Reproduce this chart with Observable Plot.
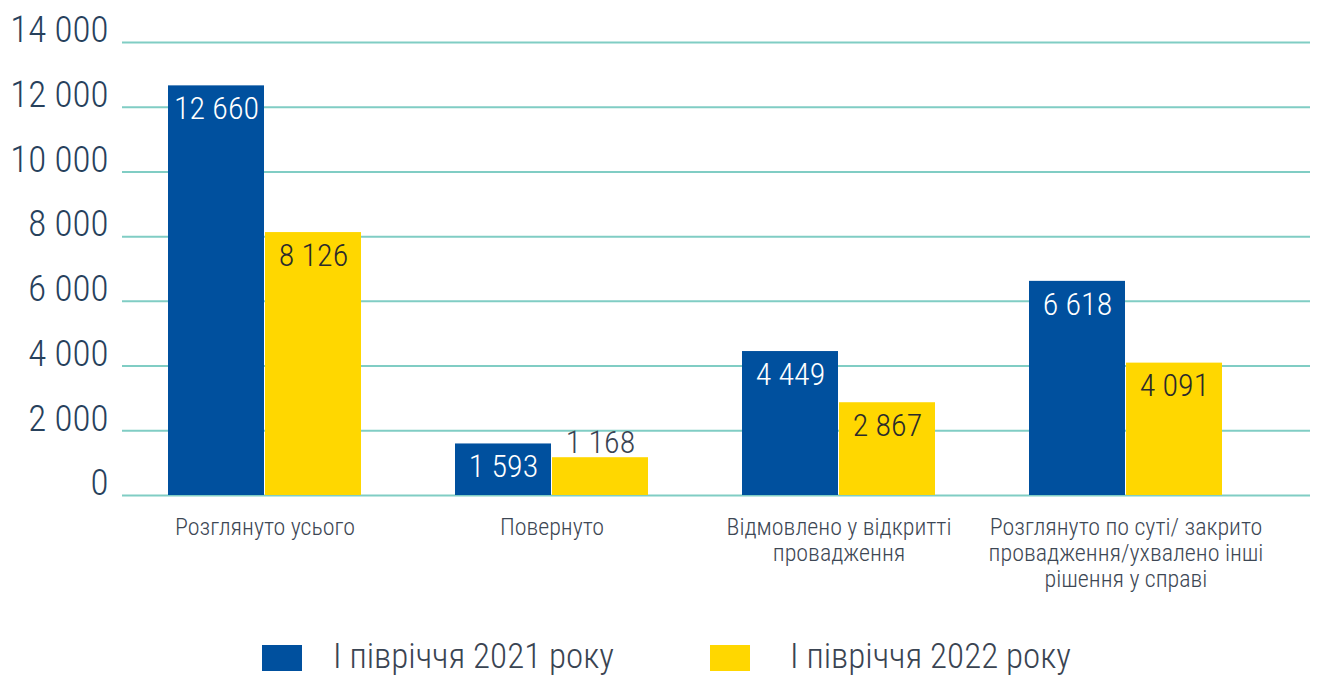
<!DOCTYPE html>
<html><head><meta charset="utf-8">
<script src="https://cdn.jsdelivr.net/npm/d3@7"></script>
<script src="https://cdn.jsdelivr.net/npm/@observablehq/plot@0.6"></script>
<style>
body{margin:0;background:#fff;font-family:'Roboto Condensed',Roboto,sans-serif;}
#chart{width:1317px;height:620px;}
#legend{position:relative;width:1317px;height:68px;}
.lg-sw{position:absolute;top:25px;width:40px;height:26px;}
.lg-tx{position:absolute;top:16px;font-size:35px;font-weight:300;line-height:42px;color:#3a4452;white-space:nowrap;}
svg text{font-weight:300;}
</style></head><body>
<div id="chart"></div>
<div id="legend"></div>
<script>
const categories = [
  "Розглянуто усього",
  "Повернуто",
  "Відмовлено у відкритті\nпровадження",
  "Розглянуто по суті/ закрито\nпровадження/ухвалено інші\nрішення у справі"
];
const series = ["І півріччя 2021 року", "І півріччя 2022 року"];
const values2021 = [12660, 1593, 4449, 6618];
const values2022 = [8126, 1168, 2867, 4091];
const yTicks = [0, 2000, 4000, 6000, 8000, 10000, 12000, 14000];
const colors = ["#00509e", "#ffd700"];

const fmt = v => d3.format(",")(v).replace(/,/g, " ");
const rows2021 = categories.map((c, i) => ({category: c, series: series[0], value: values2021[i]}));
const rows2022 = categories.map((c, i) => ({category: c, series: series[1], value: values2022[i]}));
const FONT = "'Roboto Condensed',Roboto,sans-serif";

const chart = Plot.plot({
  width: 1317, height: 620,
  marginTop: 42, marginBottom: 125, marginLeft: 122, marginRight: 7,
  style: {fontFamily: FONT, background: "#fff"},
  x: {domain: categories, paddingInner: 0.326, paddingOuter: 0.2256, align: 0.346, label: null},
  y: {domain: [0, 14000], label: null},
  marks: [
    Plot.ruleY(yTicks, {stroke: "#80cdc4", strokeWidth: 2}),
    Plot.barY(rows2021, {x: "category", y: "value", fill: colors[0], insetRight: 97}),
    Plot.barY(rows2022, {x: "category", y: "value", fill: colors[1], insetLeft: 97}),
    Plot.text(rows2021.filter(d => d.value >= 1500), {x: "category", y: "value", text: d => fmt(d.value), dx: -48.5, dy: 23, fill: "#ffffff", fontSize: 32, fontWeight: 300}),
    Plot.text(rows2022.filter(d => d.value >= 1500), {x: "category", y: "value", text: d => fmt(d.value), dx: 48.5, dy: 23, fill: "#2b2b2b", fontSize: 32, fontWeight: 300}),
    Plot.text(rows2022.filter(d => d.value < 1500), {x: "category", y: "value", text: d => fmt(d.value), dx: 48.5, dy: -15, fill: "#3a4452", fontSize: 32, fontWeight: 300}),
    Plot.axisY({ticks: yTicks, tickSize: 0, tickPadding: 14, tickFormat: fmt, fontSize: 37, fontWeight: 300, dy: -12, color: "#27415c"}),
    Plot.axisX({tickSize: 0, tickPadding: 21, fontSize: 24, fontWeight: 300, lineHeight: 1.08, color: "#3d4754"})
  ]
});
document.getElementById("chart").appendChild(chart);

const legend = document.getElementById("legend");
const lgX = [[262, 333], [710, 790]];
series.forEach((s, i) => {
  const sw = document.createElement("div");
  sw.className = "lg-sw"; sw.style.left = lgX[i][0] + "px"; sw.style.background = colors[i];
  const tx = document.createElement("div");
  tx.className = "lg-tx"; tx.style.left = lgX[i][1] + "px"; tx.textContent = s;
  legend.appendChild(sw); legend.appendChild(tx);
});
</script>
</body></html>
